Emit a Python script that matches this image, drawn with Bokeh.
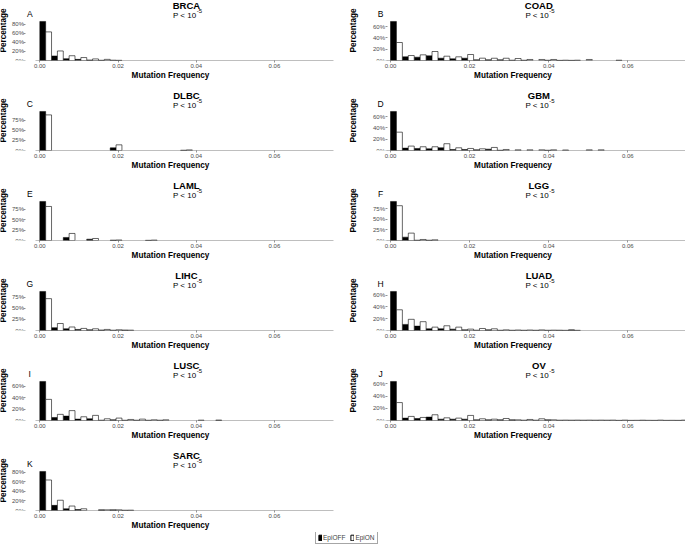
from bokeh.plotting import figure
from bokeh.models import (Label, Legend, LegendItem, FixedTicker, NumeralTickFormatter,
                          PrintfTickFormatter, Range1d)
from bokeh.layouts import column, row
from bokeh.embed import file_html
from bokeh.resources import INLINE

FONT = "Liberation Sans"

# ---- data (percent of variants per mutation-frequency bin) ----
bin_width = 0.003
n_bins = 25
bin_left = [round(i * bin_width, 4) for i in range(n_bins)]
x_ticks = [0.0, 0.02, 0.04, 0.06]

cancers = ["BRCA", "COAD", "DLBC", "GBM", "LAML", "LGG", "LIHC", "LUAD", "LUSC", "OV", "SARC"]
letters = ["A", "B", "C", "D", "E", "F", "G", "H", "I", "J", "K"]

brca_off = [86, 10, 4, 2.5, 1.2, 0.6, 0.8]
brca_on = [63, 21, 10.5, 6.5, 3.5, 2.5, 0.4]
coad_off = [69, 6.5, 5.9, 8.2, 4.1, 2.9, 4.1, 1.2, 1.2, 1.2, 0.6, 0.5, 0, 0.5, 0.3, 0.3, 0, 0, 0, 0.6]
coad_on = [31.8, 8.8, 10, 15.9, 7.6, 6.5, 10.6, 4.1, 4, 4, 3.5, 1.8, 1.8, 1.8, 0.5, 0.5, 1.8]
dlbc_off = [96.5, 0, 0, 0, 0, 0, 6.5, 0, 0, 0, 0, 0, 0.8]
dlbc_on = [88, 0, 0, 0, 0, 0, 14, 0, 0, 0, 0, 0, 1.5]
gbm_off = [69, 4.2, 3.6, 3, 4.8, 1.8, 1.8, 1.2, 2.4, 0.5, 0, 0, 0, 0.5]
gbm_on = [32.4, 7.8, 6.6, 6.6, 12, 4.8, 3.6, 3, 5.4, 1.8, 1.2, 1.2, 1.2, 1.2, 0.9, 0, 1.2, 1.2]
laml_off = [93.5, 0, 7.3, 0, 3.2, 0, 1, 0, 0, 0.5]
laml_on = [81.5, 0, 16.9, 0, 4.8, 0, 1.2, 0, 0, 1]
lgg_off = [92, 7.9, 0.8, 0.8]
lgg_on = [82, 17.4, 2.4, 1.6]
lihc_off = [88, 6.3, 3.9, 2.4, 1.6, 1.2, 0.8, 1.2]
lihc_on = [71.8, 15.8, 7.9, 4.7, 3.9, 2.4, 1.6, 0.8]
luad_off = [66, 10.3, 7.4, 2.9, 2.9, 2.3, 1.1, 0.6, 1.1, 0.5, 0.5, 0.5, 0.5, 0.5, 0.6, 1.1]
luad_on = [35, 18.9, 14.9, 5.7, 8, 5.7, 2.3, 3.4, 2.9, 1.1, 0.8, 0.8, 1.0, 0.6, 0.3, 0.3]
lusc_off = [68, 5.3, 7.7, 2.4, 3, 0.6, 1.2, 0.5, 0.6, 0.5, 0.6, 0, 0, 0, 0, 0.9]
lusc_on = [36.8, 10.7, 17.2, 6.5, 8.9, 3, 4.2, 1.8, 2.4, 1.2, 1.2, 0, 0, 0.6]
ov_off = [64, 3.9, 3.3, 5.6, 2.2, 2.2, 2.2, 1.1, 1.1, 1.1, 1.1, 0.6, 0.6, 1.1, 0.6, 0.6, 0.6, 0.6,
          0.6, 0.3, 0.3, 0.6, 0.3, 0.3, 0.3]
ov_on = [29.4, 6.7, 5, 9.4, 4.4, 3.9, 8.3, 2.8, 2.2, 3.3, 1.1, 1.7, 2.8, 1.1, 0.6, 0.6, 0.6, 0.6,
         0.6, 0.6, 0.3, 0.3, 0.6, 0.3, 0.6]
sarc_off = [81.4, 10.7, 3.6, 2.1, 0, 1.4, 1.4, 0.7]
sarc_on = [63.6, 21.4, 9.3, 3.6, 0, 1.4, 1.4, 0.7]

y_ticks = {
    "BRCA": [0, 20, 40, 60, 80], "COAD": [0, 20, 40, 60], "DLBC": [0, 25, 50, 75],
    "GBM": [0, 20, 40, 60], "LAML": [0, 25, 50, 75], "LGG": [0, 25, 50, 75],
    "LIHC": [0, 25, 50, 75], "LUAD": [0, 20, 40, 60], "LUSC": [0, 20, 40, 60],
    "OV": [0, 20, 40, 60], "SARC": [0, 20, 40, 60, 80],
}
series = {
    "BRCA": (brca_off, brca_on), "COAD": (coad_off, coad_on), "DLBC": (dlbc_off, dlbc_on),
    "GBM": (gbm_off, gbm_on), "LAML": (laml_off, laml_on), "LGG": (lgg_off, lgg_on),
    "LIHC": (lihc_off, lihc_on), "LUAD": (luad_off, luad_on), "LUSC": (lusc_off, lusc_on),
    "OV": (ov_off, ov_on), "SARC": (sarc_off, sarc_on),
}

# ---- layout / style constants ----
GRAY = "#4d4d4d"
BASE_Y = 60          # px from figure top to the zero line
DATA_H = 41          # px used by the bars (ymax*1.05)
COLS = [
    dict(width=340, x0=-0.01005, x1=0.07689, yaxis_at=-0.00353, base0=-0.0011, base1=0.0751,
         ylab_standoff=0),
    dict(width=345, x0=-0.01264, x1=0.07457, yaxis_at=-0.00088, base0=-0.00083, base1=0.07457,
         ylab_standoff=12),
]
TITLE_X = 0.0375
P_X = 0.0400


def bars(vals, offset):
    l, r, t = [], [], []
    for i, v in enumerate(vals):
        if v > 0:
            l.append(bin_left[i] + offset)
            r.append(bin_left[i] + offset + bin_width / 2)
            t.append(v)
    return l, r, t


def make_panel(name, letter, col, height):
    off, on = series[name]
    c = COLS[col]
    ymax = max(max(off), max(on)) * 1.05
    y_end = ymax * BASE_Y / DATA_H
    p = figure(width=c["width"], height=height, x_range=Range1d(c["x0"], c["x1"]),
               y_range=Range1d(0, y_end), output_backend="svg", toolbar_location=None,
               min_border_left=0, min_border_right=0, min_border_top=0,
               min_border_bottom=height - BASE_Y)
    p.segment(x0=[c["base0"]], y0=[0], x1=[c["base1"]], y1=[0], line_color="#7f7f7f",
              line_width=1)
    l, r, t = bars(off, 0)
    p.quad(left=l, right=r, bottom=0, top=t, fill_color="black", line_color="black", line_width=0.5)
    l, r, t = bars(on, bin_width / 2)
    p.quad(left=l, right=r, bottom=0, top=t, fill_color="white", line_color="black", line_width=0.6)

    p.xaxis.ticker = FixedTicker(ticks=x_ticks)
    p.xaxis.formatter = NumeralTickFormatter(format="0.00")
    p.xaxis.axis_label = "Mutation Frequency"
    p.yaxis.ticker = FixedTicker(ticks=y_ticks[name])
    p.yaxis.formatter = PrintfTickFormatter(format="%d%%")
    p.yaxis.axis_label = "Percentage"
    p.yaxis.fixed_location = c["yaxis_at"]
    for ax in (p.xaxis[0], p.yaxis[0]):
        ax.major_label_text_font = FONT
        ax.major_label_text_font_size = "6px"
        ax.major_label_text_color = GRAY
        ax.axis_label_text_font = FONT
        ax.axis_label_text_font_size = "8.2px"
        ax.axis_label_text_font_style = "bold"
        ax.axis_label_text_color = "black"
        ax.major_tick_line_color = GRAY
        ax.major_tick_line_width = 0.6
        ax.major_tick_out = 2
        ax.major_tick_in = 0
        ax.minor_tick_line_color = None
        ax.axis_line_color = None
    p.xaxis.major_label_standoff = 1
    p.xaxis.axis_label_standoff = 0
    p.yaxis.major_label_standoff = 0
    p.yaxis.axis_label_standoff = c["ylab_standoff"]
    p.grid.visible = False
    p.outline_line_color = None

    p.add_layout(Label(x=TITLE_X, y=ymax, y_offset=14, text=name, text_align="center",
                       text_baseline="middle", text_font=FONT, text_font_size="9.5px",
                       text_font_style="bold", text_color="black"))
    p.add_layout(Label(x=P_X, y=ymax, y_offset=4.5, text="P < 10", text_align="right",
                       text_baseline="middle", text_font=FONT, text_font_size="8px",
                       text_color="black"))
    p.add_layout(Label(x=P_X, y=ymax, x_offset=0.5, y_offset=8.5, text="-5", text_align="left",
                       text_baseline="middle", text_font=FONT, text_font_size="6px",
                       text_color="black"))
    p.add_layout(Label(x=0, y=ymax, x_offset=-10, y_offset=6, text=letter,
                       text_align="center", text_baseline="middle", text_font=FONT,
                       text_font_size="8.5px", text_color="black"))
    return p


rows = []
for k in range(0, 10, 2):
    rows.append(row(make_panel(cancers[k], letters[k], 0, 90),
                    make_panel(cancers[k + 1], letters[k + 1], 1, 90)))
rows.append(make_panel(cancers[10], letters[10], 0, 82))

lf = figure(width=685, height=13, x_range=Range1d(0, 1), y_range=Range1d(0, 1),
            output_backend="svg", toolbar_location=None, min_border=0,
            min_border_left=0, min_border_right=0, min_border_top=0, min_border_bottom=0,
            x_axis_type=None, y_axis_type=None)
lf.grid.visible = False
lf.outline_line_color = None
r1 = lf.quad(left=[2], right=[3], bottom=[0], top=[1], fill_color="black", line_color="black")
r2 = lf.quad(left=[2], right=[3], bottom=[0], top=[1], fill_color="white", line_color="black")
legend = Legend(items=[LegendItem(label="EpiOFF", renderers=[r1]),
                       LegendItem(label="EpiON", renderers=[r2])],
                orientation="horizontal", location=(315, 1),
                label_text_font=FONT, label_text_font_size="6.5px",
                glyph_width=4, glyph_height=7, label_standoff=1, spacing=5,
                padding=2, margin=0, label_height=7, label_width=0,
                border_line_color=GRAY, border_line_width=0.7,
                background_fill_color="white")
lf.add_layout(legend, "center")
rows.append(lf)

layout = column(*rows)
open("out.html", "w").write(file_html(layout, INLINE))
